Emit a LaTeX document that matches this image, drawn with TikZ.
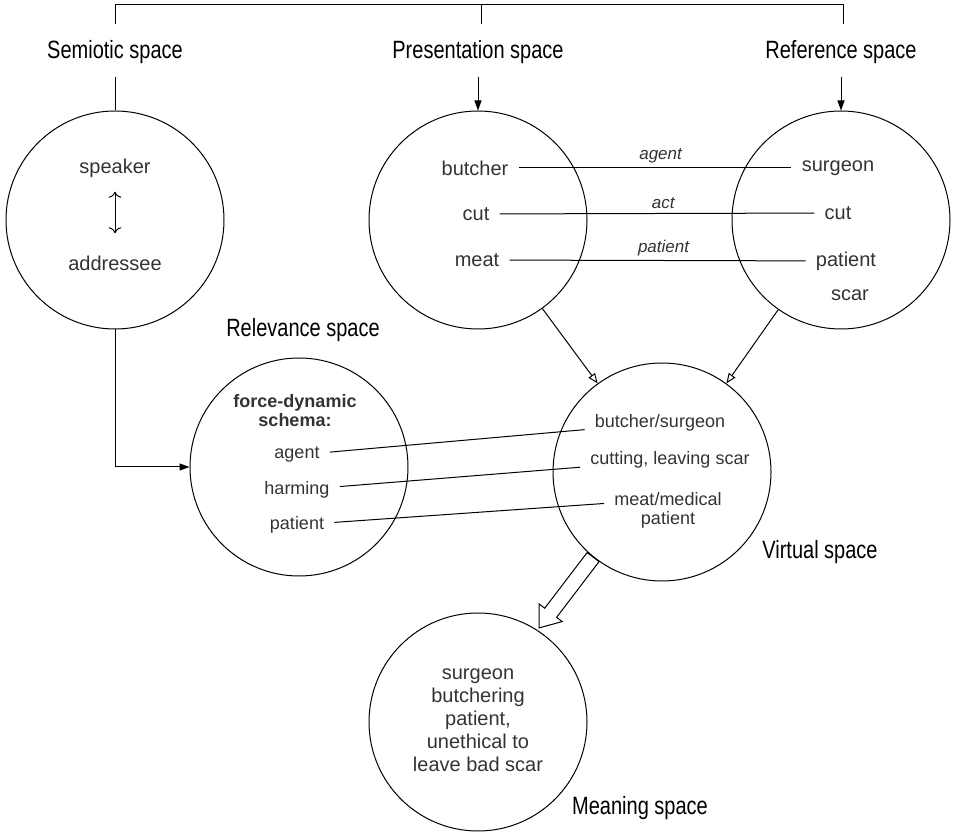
\documentclass[tikz,border=0pt]{standalone}
\usepackage{fontspec}
\setmainfont{Liberation Sans}
\newfontfamily\headfont[FakeStretch=0.8]{Liberation Sans}
\usetikzlibrary{arrows.meta}
\definecolor{ink}{HTML}{333333}
\tikzstyle{space}=[draw,circle,minimum size=109pt,inner sep=0pt,line width=0.5pt]
\tikzstyle{head}=[font=\headfont\fontsize{12.5}{14}\selectfont,text=black]
\tikzstyle{item}=[font=\fontsize{10}{12}\selectfont,text=ink,inner sep=5pt]
\tikzstyle{small}=[font=\fontsize{9}{11}\selectfont,text=ink,inner sep=5pt]
\tikzstyle{role}=[font=\itshape\fontsize{8.5}{10}\selectfont,text=ink,inner sep=2pt]
\tikzstyle{link}=[line width=0.5pt]
\tikzstyle{feed}=[line width=0.5pt,-{Triangle[length=5pt,width=3.5pt]}]
\tikzstyle{blend}=[line width=0.5pt,-{Triangle[open,length=5pt,width=4pt]}]

\begin{document}
\begin{tikzpicture}[x=0.5pt,y=-0.5pt]
\useasboundingbox (0,0) rectangle (953,833);
\foreach \place/\name in {{(115,220)/sem}, {(478,220)/pres}, {(841,220)/ref},
  {(299,467)/rel}, {(662,472)/virt}, {(478,722)/mean}}
    \node[space] (\name) at \place {};

% space names
\node[head] (semlab) at (115,52) {Semiotic space};
\node[head] (preslab) at (478,52) {Presentation space};
\node[head] (reflab) at (841,52) {Reference space};
\node[head] (rellab) at (303,330) {Relevance space};
\node[head] (virtlab) at (820,552) {Virtual space};
\node[head] (meanlab) at (640,808) {Meaning space};

% bracket over the inputs
\coordinate (brsem) at (115,24);
\coordinate (brpres) at (481,24);
\coordinate (brref) at (843,24);
\draw[link] (brsem) -- ++(0,-19) -| (brref);
\draw[link] (brpres) -- ++(0,-19);

\draw[link,shorten <=3pt] (semlab.south) -- (sem.north);
\draw[feed,shorten <=3pt] (preslab.south) -- (pres.north);
\draw[feed,shorten <=3pt] (reflab.south) -- (ref.north);

% semiotic space
\node[item] (speaker) at (115,168) {speaker};
\node[item] (addressee) at (115,263) {addressee};
\draw[link,{To[length=3pt]}-{To[length=3pt]},shorten <=2pt,shorten >=6pt] (speaker) -- (addressee);

% presentation and reference
\node[item] (presbut) at (475,168) {butcher};
\node[item] (prescut) at (476,214) {cut};
\node[item] (presmeat) at (477,260) {meat};
\node[item] (refsurg) at (838,168) {surgeon};
\node[item] (refcut) at (838,213) {cut};
\node[item] (refpat) at (846,261) {patient};
\node[item] (refscar) at (850,295) {scar};
\foreach \source/\dest/\role in {presbut/refsurg/agent, prescut/refcut/act, presmeat/refpat/patient}
  \draw[link] (\source) -- node[role,above,pos=0.52]{\role} (\dest);

% relevance space
\node[small,align=center,font=\bfseries\fontsize{9}{9.5}\selectfont] (schema) at (295,411) {force-dynamic\\schema:};
\node[small] (relagent) at (297,455) {agent};
\node[small] (relharm) at (297,490) {harming};
\node[small] (relpat) at (297,525) {patient};

% virtual space
\node[small] (virtbs) at (660,423) {butcher/surgeon};
\node[small] (virtcut) at (670,460) {cutting, leaving scar};
\node[small] (virtmeat) at (668,499) {meat/medical};
\node[small] (virtpat) at (668,520) {patient};
\foreach \source/\dest in {relagent/virtbs, relharm/virtcut, relpat/virtmeat}
  \draw[link] (\source) -- (\dest);

\draw[feed] (sem.south) |- (rel.west);
\draw[blend] (pres.-54) -- (virt.126);
\draw[blend] (ref.235) -- (virt.54);

% meaning space
\node[item,align=center,font=\fontsize{10}{11.5}\selectfont] (meantxt) at (478,720)
  {surgeon\\butchering\\patient,\\unethical to\\leave bad scar};
\begin{scope}[shift={(virt.231)},rotate=-127.3]
  \draw[link] (0pt,3.75pt) -- (35pt,3.75pt) -- (35pt,7.25pt) -- (44.5pt,0pt)
    -- (35pt,-7.25pt) -- (35pt,-3.75pt) -- (0pt,-3.75pt) -- cycle;
\end{scope}
\end{tikzpicture}
\end{document}
